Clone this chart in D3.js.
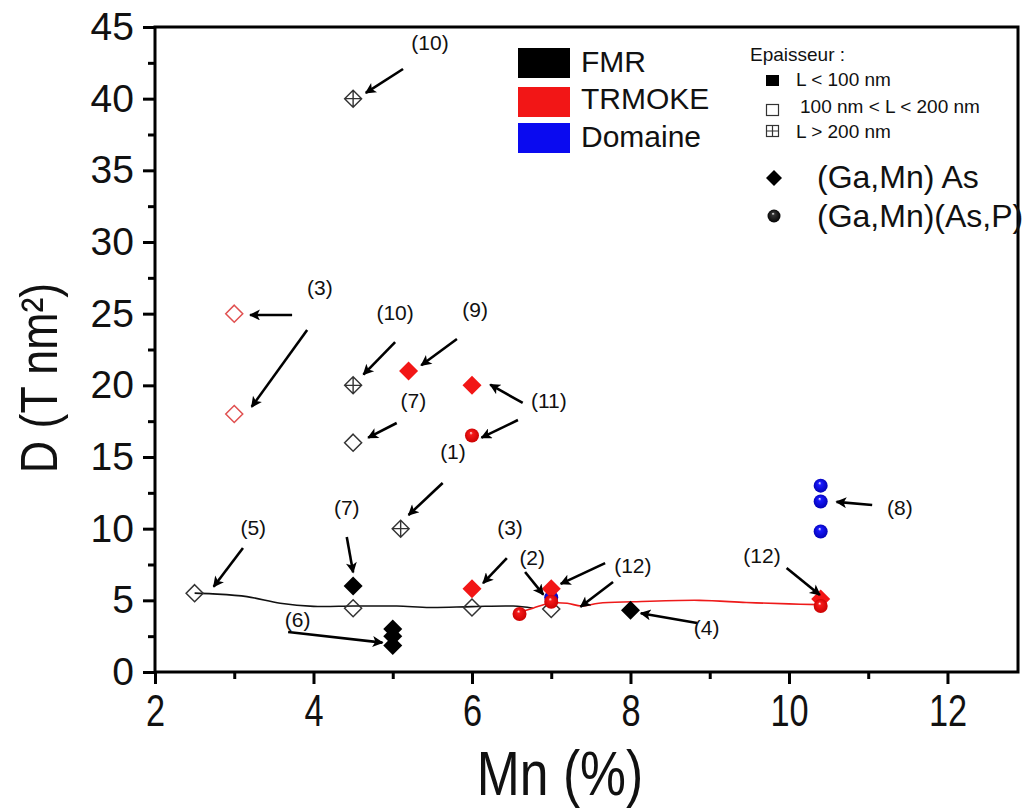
<!DOCTYPE html>
<html>
<head>
<meta charset="utf-8">
<script src="https://cdn.jsdelivr.net/npm/d3@7"></script>
<style>
  html, body { margin: 0; padding: 0; background: #fff; }
  svg { display: block; }
  text { font-family: "Liberation Sans", Arial, sans-serif; fill: #111; }
</style>
</head>
<body>
<svg id="chart" width="1027" height="808"></svg>
<script>
// ---------------- DATA ----------------
const xTicks = [2, 4, 6, 8, 10, 12];
const xMinorTicks = [3, 5, 7, 9, 11];
const yTicks = [0, 5, 10, 15, 20, 25, 30, 35, 40, 45];
const yMinorTicks = [2.5, 7.5, 12.5, 17.5, 22.5, 27.5, 32.5, 37.5, 42.5];

const methods = ["FMR", "TRMOKE", "Domaine"];
const thicknessLabels = ["L < 100 nm", "100 nm < L < 200 nm", "L > 200 nm"];
const materialLabels = ["(Ga,Mn) As", "(Ga,Mn)(As,P)"];

// [Mn %, D, thickness class, material]
const fmrPoints = [
  [4.5, 40, "gt200", "GaMnAs"],
  [4.5, 20, "gt200", "GaMnAs"],
  [4.5, 16, "mid", "GaMnAs"],
  [5.1, 10, "gt200", "GaMnAs"],
  [2.5, 5.5, "mid", "GaMnAs"],
  [4.5, 6.0, "lt100", "GaMnAs"],
  [4.5, 4.45, "mid", "GaMnAs"],
  [5.0, 3.0, "lt100", "GaMnAs"],
  [5.0, 2.5, "lt100", "GaMnAs"],
  [5.0, 1.85, "lt100", "GaMnAs"],
  [6.0, 4.5, "mid", "GaMnAs"],
  [7.0, 4.4, "mid", "GaMnAs"],
  [8.0, 4.3, "lt100", "GaMnAs"]
];
const domainePoints = [
  [7.0, 5.2, "lt100", "GaMnAsP"],
  [10.4, 13.0, "lt100", "GaMnAsP"],
  [10.4, 11.9, "lt100", "GaMnAsP"],
  [10.4, 9.8, "lt100", "GaMnAsP"]
];
const trmokePoints = [
  [3.0, 25, "mid", "GaMnAs"],
  [3.0, 18, "mid", "GaMnAs"],
  [5.2, 21, "lt100", "GaMnAs"],
  [6.0, 20, "lt100", "GaMnAs"],
  [6.0, 16.5, "lt100", "GaMnAsP"],
  [6.0, 5.8, "lt100", "GaMnAs"],
  [6.6, 4.05, "lt100", "GaMnAsP"],
  [7.0, 5.8, "lt100", "GaMnAs"],
  [7.0, 4.9, "lt100", "GaMnAsP"],
  [10.4, 5.1, "lt100", "GaMnAs"],
  [10.4, 4.6, "lt100", "GaMnAsP"]
];

// guide curves
const fmrCurve = [[2.5,5.5],[2.73,5.45],[3.16,5.26],[3.58,4.8],[4.0,4.58],[4.5,4.6],[5.05,4.6],[5.47,4.5],[6.0,4.56],[6.52,4.6],[6.77,4.45]];
const trmokeCurve = [[6.56,4.1],[6.77,4.45],[6.98,4.8],[7.2,4.8],[7.38,4.6],[7.6,4.8],[8.03,4.9],[8.87,5.0],[9.46,4.85],[10.0,4.75],[10.38,4.7]];

// reference labels [text, x, y] and arrows [x1, y1, x2, y2] in data units
const refLabels = [
  ["(10)", 5.47, 43.9], ["(3)", 4.08, 26.8], ["(10)", 5.03, 25.1], ["(9)", 6.04, 25.25],
  ["(7)", 5.26, 18.95], ["(11)", 6.97, 18.95], ["(1)", 5.76, 15.35], ["(5)", 3.24, 10.1],
  ["(7)", 4.42, 11.5], ["(6)", 3.80, 3.65], ["(3)", 6.48, 10.05], ["(2)", 6.76, 8.0],
  ["(12)", 8.03, 7.45], ["(4)", 8.96, 3.07], ["(12)", 9.66, 8.15], ["(8)", 11.40, 11.5]
];
const refArrows = [
  [5.13, 42.07, 4.66, 40.4],
  [3.73, 24.91, 3.2, 24.91],
  [3.92, 23.86, 3.22, 18.5],
  [5.03, 23.02, 4.63, 20.75],
  [5.81, 23.23, 5.36, 21.4],
  [5.05, 17.37, 4.69, 16.35],
  [6.64, 18.77, 6.23, 20.05],
  [6.58, 17.58, 6.12, 16.35],
  [5.63, 13.19, 5.2, 10.95],
  [3.11, 8.65, 2.74, 5.95],
  [4.42, 9.42, 4.5, 6.95],
  [3.68, 2.79, 4.87, 2.05],
  [6.44, 7.95, 6.14, 6.2],
  [6.67, 6.98, 6.9, 5.4],
  [7.68, 7.60, 7.12, 6.15],
  [7.78, 6.28, 7.37, 4.55],
  [8.84, 3.42, 8.13, 4.1],
  [9.97, 7.26, 10.39, 5.38],
  [11.05, 11.65, 10.6, 11.87]
];

// ---------------- STYLE / LAYOUT ----------------
const colors = { FMR: "#000000", TRMOKE: "#f21616", Domaine: "#0a0af0" };
const openColors = { FMR: "#333333", TRMOKE: "#e05050", Domaine: "#3030e0" };
const plot = { left: 155, right: 1018, top: 27, bottom: 672 };

const svg = d3.select("#chart");
const x = d3.scaleLinear().domain([2, 12.89]).range([plot.left, plot.right]);
const y = d3.scaleLinear().domain([0, 45]).range([plot.bottom, plot.top]);

// gradients for spheres
const defs = svg.append("defs");
function sphereGrad(id, base, dark) {
  const g = defs.append("radialGradient").attr("id", id)
    .attr("cx", "50%").attr("cy", "50%").attr("r", "55%")
    .attr("fx", "42%").attr("fy", "30%");
  g.append("stop").attr("offset", "0%").attr("stop-color", "#ffffff");
  g.append("stop").attr("offset", "22%").attr("stop-color", base);
  g.append("stop").attr("offset", "100%").attr("stop-color", dark);
}
sphereGrad("sph-FMR", "#333", "#000");
sphereGrad("sph-TRMOKE", "#f51a1a", "#c80000");
sphereGrad("sph-Domaine", "#1a1aff", "#0000b0");

defs.append("marker").attr("id", "arrowhead")
  .attr("viewBox", "0 0 10 10").attr("refX", 9).attr("refY", 5)
  .attr("markerWidth", 5.2).attr("markerHeight", 4.2)
  .attr("markerUnits", "strokeWidth")
  .attr("orient", "auto")
  .append("path").attr("d", "M0,0 L10,5 L0,10 L2.5,5 Z").attr("fill", "#000");

// guide curves
const line = d3.line().x(d => x(d[0])).y(d => y(d[1])).curve(d3.curveCatmullRom.alpha(0.5));
svg.append("path").datum(fmrCurve).attr("d", line)
  .attr("fill", "none").attr("stroke", "#111").attr("stroke-width", 1.6);
svg.append("path").datum(trmokeCurve).attr("d", line)
  .attr("fill", "none").attr("stroke", "#ee1a1a").attr("stroke-width", 1.6);

// markers
function diamondPath(s) { return `M0,${-s}L${s},0L0,${s}L${-s},0Z`; }
function drawPoints(data, method) {
  const g = svg.append("g");
  data.forEach(d => {
    const [mx, my, thick, mat] = d;
    const t = `translate(${x(mx)},${y(my)})`;
    if (mat === "GaMnAsP") {
      g.append("circle").attr("transform", t).attr("r", 7)
        .attr("fill", `url(#sph-${method})`);
    } else if (thick === "lt100") {
      g.append("path").attr("transform", t).attr("d", diamondPath(9.5))
        .attr("fill", colors[method]);
    } else if (thick === "mid") {
      g.append("path").attr("transform", t).attr("d", diamondPath(8.5))
        .attr("fill", "none").attr("stroke", openColors[method]).attr("stroke-width", 1.5);
    } else {
      const s = 8.5;
      g.append("path").attr("transform", t)
        .attr("d", diamondPath(s) + `M0,${-s}L0,${s}M${-s},0L${s},0`)
        .attr("fill", "none").attr("stroke", openColors[method]).attr("stroke-width", 1.4);
    }
  });
}
drawPoints(fmrPoints, "FMR");
drawPoints(domainePoints, "Domaine");
drawPoints(trmokePoints, "TRMOKE");

// annotation arrows and labels
svg.append("g").selectAll("line").data(refArrows).join("line")
  .attr("x1", d => x(d[0])).attr("y1", d => y(d[1]))
  .attr("x2", d => x(d[2])).attr("y2", d => y(d[3]))
  .attr("stroke", "#000").attr("stroke-width", 2.6)
  .attr("marker-end", "url(#arrowhead)");
svg.append("g").selectAll("text").data(refLabels).join("text")
  .attr("x", d => x(d[1])).attr("y", d => y(d[2]))
  .attr("text-anchor", "middle").attr("dy", "0.35em")
  .style("font-size", "21px")
  .text(d => d[0]);

// axes
const xAxis = svg.append("g").attr("transform", `translate(0,${plot.bottom})`)
  .call(d3.axisBottom(x).tickValues(xTicks).tickSize(12).tickPadding(11).tickFormat(d3.format("d")));
svg.append("g").attr("transform", `translate(0,${plot.bottom})`)
  .call(d3.axisBottom(x).tickValues(xMinorTicks).tickSize(7).tickFormat(""))
  .call(g => g.select(".domain").remove())
  .selectAll("line").attr("stroke-width", 3);
xAxis.select(".domain").remove();
xAxis.selectAll("line").attr("stroke-width", 3);
xAxis.selectAll("text").style("font-size", "44px").attr("fill", "#111")
  .attr("transform", "scale(0.78,1)");

const yAxis = svg.append("g").attr("transform", `translate(${plot.left},0)`)
  .call(d3.axisLeft(y).tickValues(yTicks).tickSize(12).tickPadding(9));
svg.append("g").attr("transform", `translate(${plot.left},0)`)
  .call(d3.axisLeft(y).tickValues(yMinorTicks).tickSize(7).tickFormat(""))
  .call(g => g.select(".domain").remove())
  .selectAll("line").attr("stroke-width", 3);
yAxis.select(".domain").remove();
yAxis.selectAll("line").attr("stroke-width", 3);
yAxis.selectAll("text").style("font-size", "39px").attr("fill", "#111");

// frame
svg.append("rect").attr("x", plot.left).attr("y", plot.top)
  .attr("width", plot.right - plot.left).attr("height", plot.bottom - plot.top)
  .attr("fill", "none").attr("stroke", "#000").attr("stroke-width", 3);

// axis titles
svg.append("text")
  .attr("transform", "translate(560,795) scale(0.82,1)").attr("text-anchor", "middle")
  .style("font-size", "63px").text("Mn (%)");
svg.append("text")
  .attr("transform", "translate(57,378) rotate(-90) scale(0.86,1)").attr("text-anchor", "middle")
  .style("font-size", "52px").text("D (T nm²)");

// legend: methods
const legM = svg.append("g");
const methodRows = [[48, 72], [87, 109], [123, 147]];
methods.forEach((m, i) => {
  legM.append("rect").attr("x", 518).attr("y", methodRows[i][0])
    .attr("width", 52).attr("height", 30).attr("fill", colors[m]);
  legM.append("text").attr("x", 581).attr("y", methodRows[i][1])
    .style("font-size", "30px").text(m);
});

// legend: thickness
const legT = svg.append("g");
legT.append("text").attr("x", 750).attr("y", 61).style("font-size", "19px").text("Epaisseur :");
const tRows = [[75, 86, 796], [104, 113, 800], [125, 138, 796]];
thicknessLabels.forEach((lab, i) => {
  const [sy, ty, tx] = tRows[i];
  const gx = 766, s = 13;
  if (i === 0) {
    legT.append("rect").attr("x", gx).attr("y", sy).attr("width", s).attr("height", s - 2).attr("fill", "#000");
  } else {
    legT.append("rect").attr("x", gx + 0.5).attr("y", sy + 0.5).attr("width", s - 1).attr("height", s - 2)
      .attr("fill", "none").attr("stroke", "#333").attr("stroke-width", 1.2);
    if (i === 2) {
      legT.append("path").attr("d", `M${gx + s / 2},${sy}V${sy + s - 1}M${gx},${sy + (s - 1) / 2}H${gx + s}`)
        .attr("stroke", "#333").attr("stroke-width", 1.2);
    }
  }
  legT.append("text").attr("x", tx).attr("y", ty).style("font-size", "19px").text(lab);
});

// legend: material
const legMat = svg.append("g");
legMat.append("path").attr("transform", "translate(774,178)").attr("d", diamondPath(8)).attr("fill", "#000");
legMat.append("circle").attr("cx", 774).attr("cy", 216).attr("r", 6.5).attr("fill", "url(#sph-FMR)");
legMat.append("text").attr("x", 817).attr("y", 188).style("font-size", "32px").text(materialLabels[0]);
legMat.append("text").attr("x", 817).attr("y", 227).style("font-size", "32px").text(materialLabels[1]);
</script>
</body>
</html>
